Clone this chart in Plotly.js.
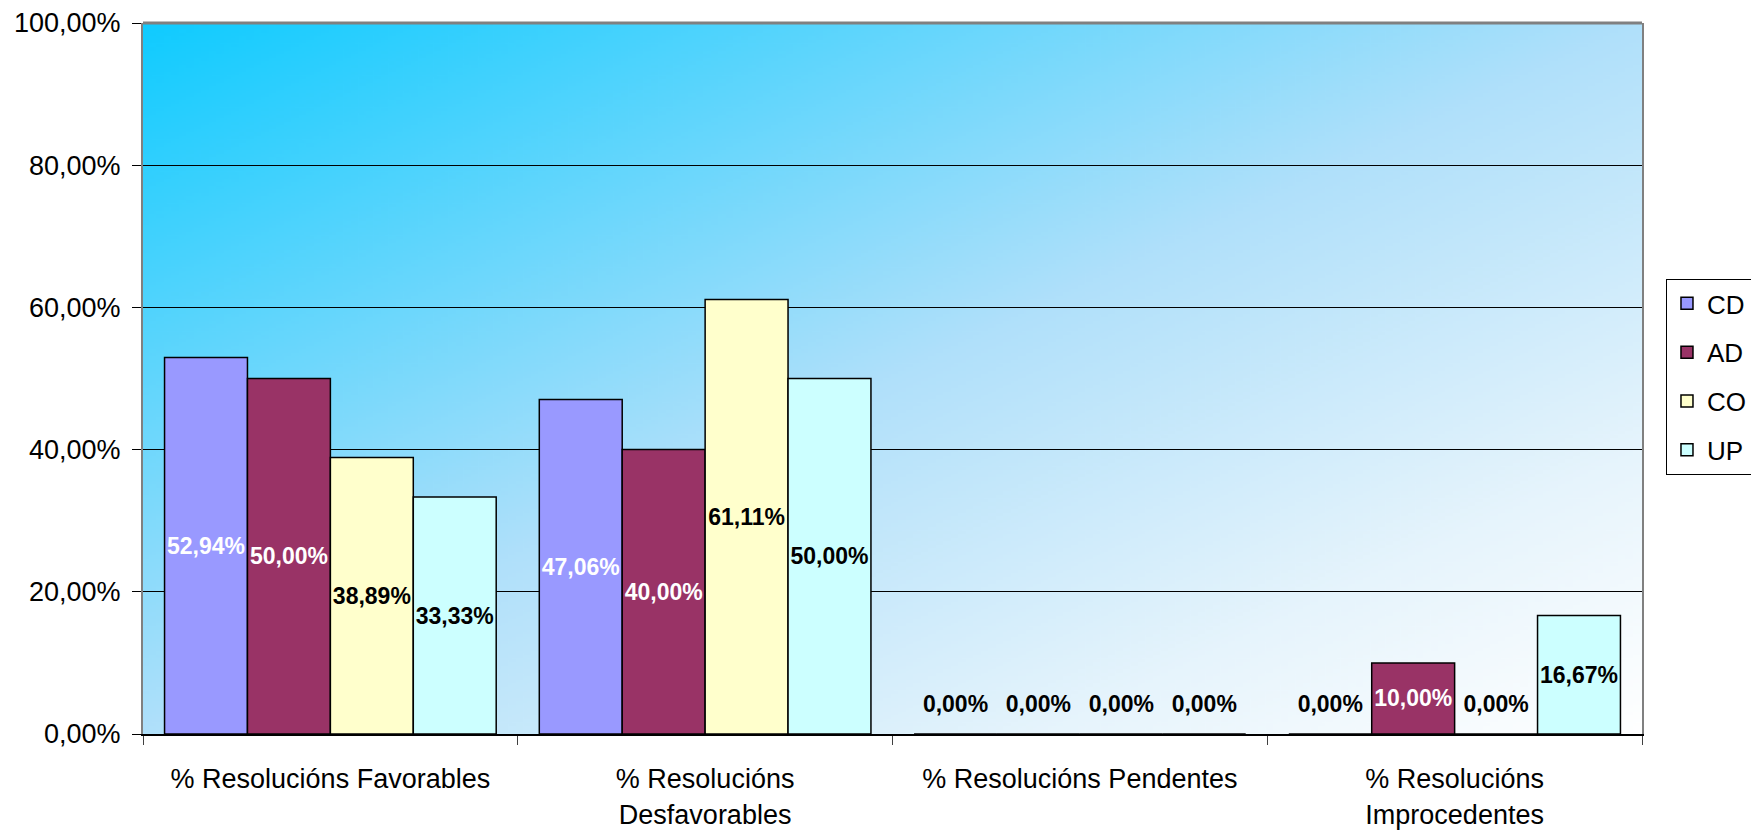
<!DOCTYPE html>
<html>
<head>
<meta charset="utf-8">
<script src="https://cdn.plot.ly/plotly-3.0.1.min.js"></script>
<style>html,body{margin:0;padding:0;background:#fff;}#chart{width:1751px;height:834px;}</style>
</head>
<body>
<div id="chart"></div>
<script>
const categories = ['% Resolucións Favorables', '% Resolucións<br>Desfavorables', '% Resolucións Pendentes', '% Resolucións<br>Improcedentes'];
const seriesNames = ['CD', 'AD', 'CO', 'UP'];
const valuesCD = [0.5294, 0.4706, 0, 0];
const valuesAD = [0.50, 0.40, 0, 0.10];
const valuesCO = [0.3889, 0.6111, 0, 0];
const valuesUP = [0.3333, 0.50, 0, 0.1667];
const seriesValues = [valuesCD, valuesAD, valuesCO, valuesUP];
const seriesColors = ['#9999FF', '#993366', '#FFFFCC', '#CCFFFF'];
const insideTextColors = ['#FFFFFF', '#FFFFFF', '#000000', '#000000'];
const tickVals = [0, 0.2, 0.4, 0.6, 0.8, 1.0];

const FONT = 'Liberation Sans, Arial, sans-serif';

// gradient background
const cv = document.createElement('canvas');
cv.width = 400; cv.height = 400;
const ctx = cv.getContext('2d');
const g = ctx.createLinearGradient(0, 0, 400, 400);
g.addColorStop(0, '#0FCBFF');
g.addColorStop(0.5, '#B0E0FA');
g.addColorStop(0.8, '#E6F4FC');
g.addColorStop(1, '#FFFFFF');
ctx.fillStyle = g;
ctx.fillRect(0, 0, 400, 400);
const bgUrl = cv.toDataURL('image/png');

const zeroTemplate = '<span style="font-size:23px">%{y:.2%}</span><br><span style="color:rgba(0,0,0,0)">.</span>';

const traces = seriesNames.map((name, i) => {
  const vals = seriesValues[i];
  return {
    type: 'bar',
    name: name,
    legendgroup: name,
    x: categories,
    y: vals,
    marker: { color: seriesColors[i], line: { color: '#000000', width: 1.5 } },
    texttemplate: vals.map(v => v === 0 ? zeroTemplate : '%{y:.2%}'),
    textposition: vals.map(v => v === 0 ? 'outside' : 'inside'),
    insidetextanchor: 'middle',
    textangle: 0,
    constraintext: 'none',
    cliponaxis: false,
    insidetextfont: { family: FONT, size: 23, weight: 'bold', color: insideTextColors[i] },
    outsidetextfont: { family: FONT, size: 12, weight: 'bold', color: '#000000' },
    hoverinfo: 'x+y'
  };
});

const layout = {
  width: 1751,
  height: 834,
  margin: { l: 143, r: 109, t: 23, b: 100, autoexpand: false },
  paper_bgcolor: '#FFFFFF',
  plot_bgcolor: 'rgba(0,0,0,0)',
  separators: ',.',
  barmode: 'group',
  bargap: 0.115,
  bargroupgap: 0,
  font: { family: FONT, size: 27, color: '#000000' },
  images: [{
    source: bgUrl, xref: 'paper', yref: 'paper', x: 0, y: 1,
    sizex: 1, sizey: 1, sizing: 'stretch', layer: 'below', xanchor: 'left', yanchor: 'top'
  }],
  xaxis: {
    type: 'category',
    showline: true, linecolor: '#000000', linewidth: 2,
    ticks: 'outside', tickson: 'boundaries', ticklen: 9, tickcolor: '#404040', tickwidth: 1,
    showgrid: false,
    tickfont: { family: FONT, size: 27, color: '#000000' },
    ticklabelstandoff: 20,
    fixedrange: true
  },
  yaxis: {
    range: [0, 1],
    tickvals: tickVals,
    tickformat: '.2%',
    showline: true, linecolor: '#808080', linewidth: 2, mirror: true,
    ticks: 'outside', ticklen: 9, tickcolor: '#000000', tickwidth: 1,
    showgrid: true, gridcolor: '#000000', gridwidth: 1,
    zeroline: false,
    tickfont: { family: FONT, size: 27, color: '#000000' },
    ticklabelstandoff: 6,
    fixedrange: true
  },
  shapes: [{
    type: 'line', xref: 'paper', yref: 'paper', x0: 0, x1: 1, y0: 1, y1: 1,
    line: { color: '#808080', width: 3 }, layer: 'above'
  }],
  legend: {
    x: 1.016, y: 0.64, xanchor: 'left', yanchor: 'top',
    bgcolor: '#FFFFFF', bordercolor: '#000000', borderwidth: 1,
    font: { family: FONT, size: 26, color: '#000000' },
    tracegroupgap: 12,
    itemwidth: 30,
    traceorder: 'grouped'
  },
  showlegend: true
};

Plotly.newPlot('chart', traces, layout, { displayModeBar: false, staticPlot: true });
</script>
</body>
</html>
